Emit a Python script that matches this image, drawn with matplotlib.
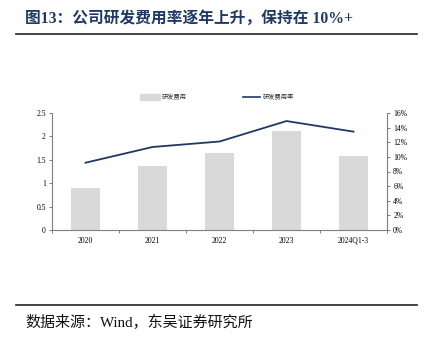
import matplotlib
matplotlib.use("Agg")
import matplotlib.pyplot as plt
from matplotlib.lines import Line2D
from matplotlib.patches import Rectangle
import numpy as np

categories = ["2020", "2021", "2022", "2023", "2024Q1-3"]
rd_expense = [0.89, 1.37, 1.645, 2.12, 1.575]          # 研发费用
rd_ratio = [9.2, 11.35, 12.1, 14.9, 13.45]             # 研发费用率 (%)

left_ticks = [0, 0.5, 1, 1.5, 2, 2.5]
left_labels = ["0", "0.5", "1", "1.5", "2", "2.5"]
right_ticks = [0, 2, 4, 6, 8, 10, 12, 14, 16]
right_labels = [f"{t}%" for t in right_ticks]

W, H = 430, 341
fig = plt.figure(figsize=(W / 100, H / 100), dpi=100)

serif = ["Liberation Serif", "Noto Sans CJK SC"]
cjk = ["Noto Sans CJK SC", "DejaVu Sans"]
axis_color = "#7f7f7f"
bar_color = "#d9d9d9"
line_color = "#1f3864"
title_color = "#1f3864"

# Title and rules
fig.text(25 / W, 1 - 19 / H, "图13：公司研发费用率逐年上升，保持在 10%+",
         family=serif, fontsize=11.3, fontweight="bold", color=title_color,
         va="center", ha="left")
fig.add_artist(Line2D([16 / W, 417 / W], [1 - 34 / H, 1 - 34 / H],
                      color="#222222", lw=1.2))
fig.add_artist(Line2D([16 / W, 417 / W], [1 - 304.5 / H, 1 - 304.5 / H],
                      color="#222222", lw=1.2))
fig.text(25 / W, 1 - 322 / H, "数据来源：Wind，东吴证券研究所",
         family=serif, fontsize=10.8,
         color="#111111", va="center", ha="left")

# Plot area
x0, x1 = 52, 387
y0, y1 = 113, 230
ax = fig.add_axes([x0 / W, 1 - y1 / H, (x1 - x0) / W, (y1 - y0) / H])
x = np.arange(len(categories))
ax.bar(x, rd_expense, width=0.42, color=bar_color, zorder=2)
ax.set_xlim(-0.5, len(categories) - 0.5)
ax.set_ylim(0, 2.5)
ax.set_yticks(left_ticks)
ax.set_yticklabels(left_labels, family=serif, fontsize=5.5)
ax.set_xticks(x)
ax.set_xticklabels(categories, family=serif, fontsize=5.5)
ax.set_xticks(np.arange(-0.5, len(categories), 1.0), minor=True)
ax.tick_params(axis="x", which="major", length=0, pad=5)
ax.tick_params(axis="x", which="minor", length=2.5, color=axis_color, width=0.7)
ax.tick_params(axis="y", length=2.5, color=axis_color, width=0.7, pad=2)
for s in ["top", "right"]:
    ax.spines[s].set_visible(False)
for s in ["left", "bottom"]:
    ax.spines[s].set_color(axis_color)
    ax.spines[s].set_linewidth(0.8)

ax2 = ax.twinx()
ax2.plot(x, rd_ratio, color=line_color, lw=1.3, zorder=3)
ax2.set_ylim(0, 16)
ax2.set_yticks(right_ticks)
ax2.set_yticklabels(right_labels, family=serif, fontsize=5.5)
ax2.tick_params(axis="y", length=2.5, color=axis_color, width=0.7, pad=2)
for s in ["top", "left", "bottom"]:
    ax2.spines[s].set_visible(False)
ax2.spines["right"].set_color(axis_color)
ax2.spines["right"].set_linewidth(0.8)

# Legend
fig.add_artist(Rectangle((140 / W, 1 - 100 / H), 20 / W, 6 / H,
                         color=bar_color, transform=fig.transFigure))
fig.text(162 / W, 1 - 97 / H, "研发费用", family=cjk, fontsize=4.5,
         va="center", ha="left", color="#333333")
fig.add_artist(Line2D([243 / W, 260 / W], [1 - 97 / H, 1 - 97 / H],
                      color=line_color, lw=1.2))
fig.text(263 / W, 1 - 97 / H, "研发费用率", family=cjk, fontsize=4.5,
         va="center", ha="left", color="#333333")

fig.savefig("out.png", dpi=100, facecolor="white")
